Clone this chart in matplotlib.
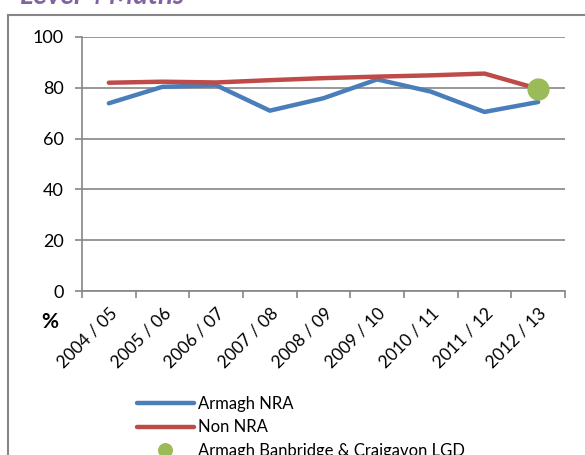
import matplotlib
matplotlib.use('Agg')
import matplotlib.pyplot as plt
from matplotlib.patches import Rectangle

years = ['2004 / 05', '2005 / 06', '2006 / 07', '2007 / 08', '2008 / 09',
         '2009 / 10', '2010 / 11', '2011 / 12', '2012 / 13']
armagh_nra = [73.9, 80.4, 81.0, 71.0, 75.9, 83.3, 78.5, 70.5, 74.4]
non_nra = [82.0, 82.4, 82.1, 83.0, 83.8, 84.4, 84.9, 85.6, 79.6]
lgd_year = ['2012 / 13']
lgd_value = [79.4]

plt.rcParams['font.family'] = ['Lato', 'DejaVu Sans']
grey = '#868686'

fig = plt.figure(figsize=(5.85, 4.55), dpi=100)
ax = fig.add_axes([82 / 585, 1 - 291 / 455, (565 - 82) / 585, (291 - 37) / 455])

x = list(range(len(years)))
ax.plot(x, armagh_nra, color='#4A7EBB', lw=3.2, solid_capstyle='round', label='Armagh NRA', zorder=3)
ax.plot(x, non_nra, color='#BE4B48', lw=3.2, solid_capstyle='round', label='Non NRA', zorder=3)
ax.plot([years.index(y) for y in lgd_year], lgd_value, 'o', color='#9BBB59', ms=15,
        label='Armagh Banbridge & Craigavon LGD', zorder=4)

ax.set_xlim(-0.5, len(years) - 0.5)
ax.set_ylim(0, 100)
ax.set_yticks(range(0, 101, 20))
ax.set_xticks(x)
ax.set_xticklabels(years, rotation=45, ha='right', rotation_mode='anchor')
ax.set_xticks([i - 0.5 for i in range(len(years) + 1)], minor=True)
ax.tick_params(axis='x', which='major', length=0, pad=10, labelsize=12.5)
ax.tick_params(axis='x', which='minor', length=5, color=grey, width=1.2)
ax.tick_params(axis='y', length=5, color=grey, width=1.2, labelsize=13, pad=8)
ax.yaxis.grid(True, color=grey, lw=1.2)
ax.set_axisbelow(True)
for s in ['top', 'right']:
    ax.spines[s].set_visible(False)
for s in ['left', 'bottom']:
    ax.spines[s].set_color(grey)
    ax.spines[s].set_linewidth(1.2)

fig.text(50 / 585, 1 - 322 / 455, '%', fontsize=15, fontweight='bold', ha='center', va='center')

# outer chart border (cropped at right and bottom)
fig.patches.append(Rectangle((8 / 585, -0.1), 1.2, 1 - 15 / 455 + 0.1, transform=fig.transFigure,
                             fill=False, edgecolor=grey, lw=1.5))

fig.text(20 / 585, 1 - 4 / 455, 'Level 4 Maths', fontsize=20, fontweight='bold', style='italic',
         color='#8064A2', ha='left', va='baseline')

fig.legend(loc='upper left', bbox_to_anchor=(137 / 585, 1 - 396 / 455), frameon=False,
           fontsize=12, handlelength=3.4, handletextpad=0.25, labelspacing=0.45,
           borderaxespad=0, borderpad=0, markerscale=0.65)

fig.savefig('out.png', dpi=100)
